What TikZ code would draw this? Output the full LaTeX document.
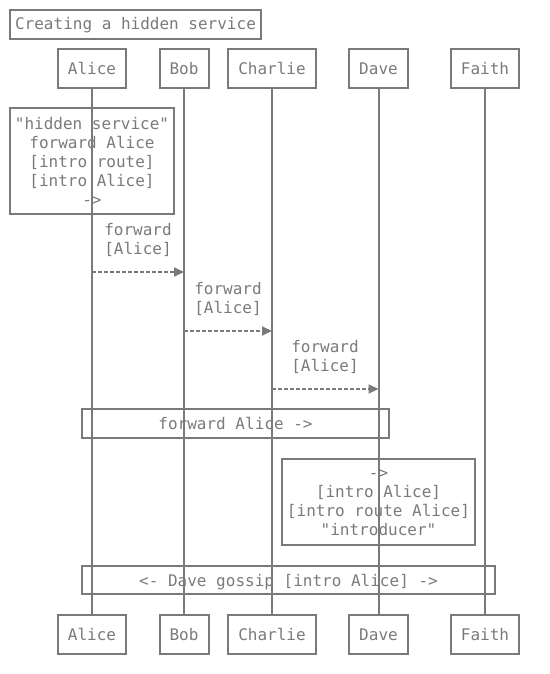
\documentclass[tikz,border=0pt]{standalone}
\usepackage{fontspec}
\newfontfamily\dvm{DejaVu Sans Mono}
\usetikzlibrary{arrows.meta}
\definecolor{ink}{RGB}{122,122,122}
\begin{document}
\begin{tikzpicture}[x=1pt,y=-1pt,
  every node/.style={font=\dvm\fontsize{16}{19}\selectfont, text=ink, inner sep=0pt},
  box/.style={draw=ink, line width=2pt, rectangle},
  oneline/.style={text height=12pt, text depth=0pt},
  actor/.style={box, oneline, minimum height=39pt},
  lifeline/.style={draw=ink, line width=2pt},
  msg/.style={draw=ink, line width=2pt, dash pattern=on 4pt off 2pt, -{Triangle[length=10pt,width=9pt,fill=ink]}},
  lbl/.style={align=center}
]
\useasboundingbox (0,0) rectangle (549,674);
% title
\node[box, text height=12pt, text depth=1.5pt, minimum width=251pt, minimum height=29pt] (title) at (135.5,24.5) {Creating a hidden service};
% actors top
\node[actor, minimum width=68pt] (aT) at (92,68.5) {Alice};
\node[actor, minimum width=49pt] (bT) at (184,68.5) {Bob};
\node[actor, minimum width=88pt] (cT) at (272,68.5) {Charlie};
\node[actor, minimum width=59pt] (dT) at (378.5,68.5) {Dave};
\node[actor, minimum width=68pt] (fT) at (485,68.5) {Faith};
% actors bottom
\node[actor, minimum width=68pt] (aB) at (92,634.5) {Alice};
\node[actor, minimum width=49pt] (bB) at (184,634.5) {Bob};
\node[actor, minimum width=88pt] (cB) at (272,634.5) {Charlie};
\node[actor, minimum width=59pt] (dB) at (378.5,634.5) {Dave};
\node[actor, minimum width=68pt] (fB) at (485,634.5) {Faith};
% notes
\node[box, minimum width=164pt, minimum height=106pt, align=center] (n1) at (92,161) {"hidden service"\\{}forward Alice\\{}[intro route]\\{}[intro Alice]\\{}->};
\node[box, oneline, minimum width=307pt, minimum height=29pt] (n2) at (235.5,423.5) {forward Alice ->};
\node[box, minimum width=193pt, minimum height=86pt] (n3) at (378.5,502) {};
\node[align=center] (n3t) at (378.5,503) {->\\{}[intro Alice]\\{}[intro route Alice]\\{}"introducer"};
\node[box, oneline, minimum width=413pt, minimum height=28pt] (n4) at (288.5,580) {<- Dave gossip [intro Alice] ->};
% lifelines
\draw[lifeline] (aT.south) -- (aB.north);
\draw[lifeline] (bT.south) -- (bB.north);
\draw[lifeline] (cT.south) -- (cB.north);
\draw[lifeline] (dT.south) -- (dB.north);
\draw[lifeline] (fT.south) -- (fB.north);
% messages
\coordinate (m1s) at (92,272); \coordinate (m1e) at (184,272);
\coordinate (m2s) at (184,331); \coordinate (m2e) at (272,331);
\coordinate (m3s) at (272,389); \coordinate (m3e) at (378.5,389);
\draw[msg] (m1s) -- (m1e);
\draw[msg] (m2s) -- (m2e);
\draw[msg] (m3s) -- (m3e);
\node[lbl] (l1) at (138,240) {forward\\{}[Alice]};
\node[lbl] (l2) at (228,298.5) {forward\\{}[Alice]};
\node[lbl] (l3) at (325,356.5) {forward\\{}[Alice]};
\end{tikzpicture}
\end{document}
